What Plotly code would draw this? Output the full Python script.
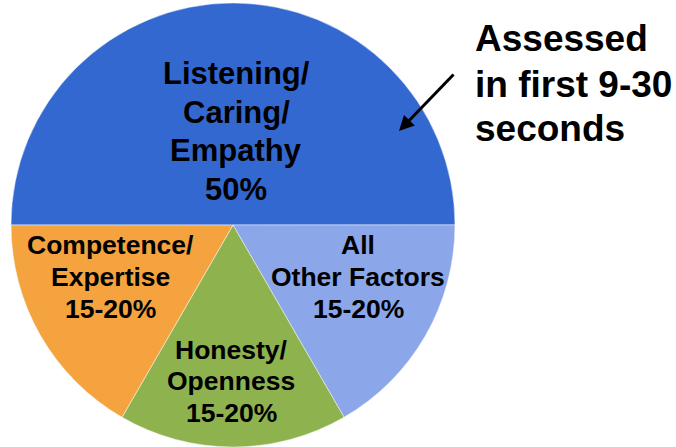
import plotly.graph_objects as go

W, H = 676, 447

# Data
categories = ["Listening/ Caring/ Empathy", "All Other Factors", "Honesty/ Openness", "Competence/ Expertise"]
values = [50, 16.67, 16.67, 16.67]
colors = ["#3368D0", "#8BA6E9", "#8EB24E", "#F4A33E"]

# Slice label lines (text), with placement in pixels
label_lines = [
    ["Listening/", "Caring/", "Empathy", "50%"],
    ["All", "Other Factors", "15-20%"],
    ["Honesty/", "Openness", "15-20%"],
    ["Competence/", "Expertise", "15-20%"],
]
label_x = [236, 358, 231, 110]
label_first_baseline = [85, 255, 359.5, 255]
label_spacing = [38.5, 32, 31.5, 32]
label_size = [31, 26.5, 26.5, 26.5]

note_lines = ["Assessed", "in first 9-30", "seconds"]

fig = go.Figure()
fig.add_trace(go.Pie(
    labels=categories,
    values=values,
    sort=False,
    direction="clockwise",
    rotation=270,
    marker=dict(colors=colors, line=dict(color="rgba(255,255,255,0.6)", width=0.8)),
    textinfo="none",
    hoverinfo="skip",
    showlegend=False,
    domain=dict(x=[11 / W, 455 / W], y=[0, 1 - 3 / H]),
))

def px(x):
    return x / W

def py(y):
    return 1 - y / H

FONT = "Liberation Sans, Arial, sans-serif"
annotations = []
for lines, cx, b0, sp, fs in zip(label_lines, label_x, label_first_baseline, label_spacing, label_size):
    for i, t in enumerate(lines):
        base = b0 + i * sp
        annotations.append(dict(
            text="<b>%s</b>" % t, x=px(cx), y=py(base - 0.36 * fs),
            xref="paper", yref="paper", xanchor="center", yanchor="middle",
            showarrow=False, font=dict(family=FONT, size=fs, color="black"),
        ))

note_baselines = [52, 97.5, 142]
for t, b in zip(note_lines, note_baselines):
    annotations.append(dict(
        text="<b>%s</b>" % t, x=px(473), y=py(b - 0.36 * 37),
        xref="paper", yref="paper", xanchor="left", yanchor="middle",
        showarrow=False, font=dict(family=FONT, size=37, color="black"),
    ))

# Arrow pointing into the big slice
annotations.append(dict(
    text="", x=px(399), y=py(131), xref="paper", yref="paper",
    showarrow=True, ax=56, ay=-58, axref="pixel", ayref="pixel",
    arrowhead=2, arrowsize=1, arrowwidth=3, arrowcolor="black", standoff=0,
))

fig.update_layout(
    width=W, height=H,
    margin=dict(l=0, r=0, t=0, b=0),
    paper_bgcolor="white", plot_bgcolor="white",
    annotations=annotations,
)

fig.write_html("out.html", config={"displayModeBar": False},
               post_script="document.body.style.margin='0';")
